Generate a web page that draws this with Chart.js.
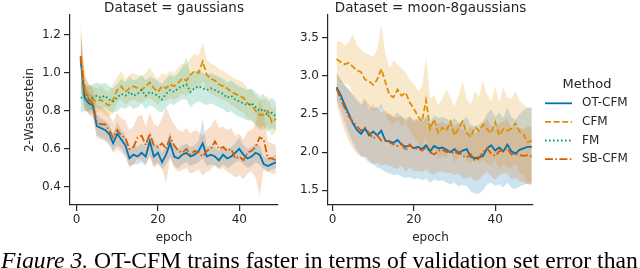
<!DOCTYPE html>
<html><head><meta charset="utf-8">
<script src="https://cdn.jsdelivr.net/npm/chart.js@4.4.1/dist/chart.umd.min.js"></script>
<style>
html,body{margin:0;padding:0;background:#fff;width:640px;height:268px;overflow:hidden;position:relative}
canvas{position:absolute;top:0}
#c1{left:0}
#c2{left:290px}
#cap{position:absolute;left:1px;top:249px;font-family:"Liberation Serif","Times New Roman",serif;font-size:22px;line-height:22px;white-space:nowrap;color:#000}
</style></head><body>
<canvas id="c1" width="290" height="250"></canvas>
<canvas id="c2" width="350" height="250"></canvas>
<div id="cap"><i>Figure 3.</i> OT-CFM trains faster in terms of validation set error than</div>
<script>
// ---------- data ----------
const epochs = [1,2,3,4,5,6,7,8,9,10,11,12,13,14,15,16,17,18,19,20,21,22,23,24,25,26,27,28,29,30,31,32,33,34,35,36,37,38,39,40,41,42,43,44,45,46,47,48,49];
const xTicks = [0,20,40];
const yTicksLeft = [0.4,0.6,0.8,1.0,1.2];
const yTicksRight = [1.5,2.0,2.5,3.0,3.5];
const panelTitles = ["Dataset = gaussians","Dataset = moon-8gaussians"];
const methods = ["OT-CFM","CFM","FM","SB-CFM"];

// Dataset = gaussians
const gOT = [1.07,0.87,0.84,0.83,0.72,0.71,0.70,0.68,0.63,0.68,0.65,0.62,0.55,0.57,0.56,0.58,0.56,0.64,0.56,0.58,0.53,0.57,0.63,0.56,0.55,0.57,0.58,0.56,0.57,0.59,0.63,0.56,0.57,0.56,0.54,0.57,0.55,0.56,0.58,0.60,0.57,0.55,0.56,0.58,0.57,0.52,0.51,0.52,0.53];
const gOTlo = [0.92,0.80,0.79,0.78,0.67,0.66,0.65,0.63,0.59,0.62,0.60,0.57,0.51,0.52,0.52,0.53,0.51,0.57,0.51,0.53,0.49,0.52,0.56,0.51,0.50,0.52,0.53,0.51,0.52,0.53,0.55,0.51,0.52,0.51,0.50,0.52,0.50,0.51,0.53,0.54,0.52,0.50,0.51,0.53,0.52,0.49,0.48,0.49,0.50];
const gOThi = [1.22,0.95,0.90,0.88,0.78,0.76,0.75,0.73,0.68,0.74,0.70,0.67,0.60,0.62,0.61,0.63,0.61,0.70,0.62,0.63,0.58,0.62,0.69,0.61,0.60,0.62,0.63,0.61,0.62,0.64,0.76,0.61,0.62,0.61,0.59,0.62,0.60,0.61,0.63,0.66,0.62,0.60,0.61,0.63,0.62,0.56,0.55,0.56,0.57];
const gCFM = [1.08,0.92,0.87,0.86,0.85,0.86,0.84,0.83,0.86,0.91,0.93,0.90,0.92,0.93,0.92,0.91,0.93,0.95,0.92,0.90,0.93,0.92,0.94,0.93,0.95,0.97,0.96,0.99,1.01,1.00,1.06,0.99,0.97,0.96,0.94,0.93,0.92,0.90,0.89,0.88,0.87,0.84,0.83,0.80,0.78,0.78,0.80,0.74,0.76];
const gCFMlo = [0.90,0.85,0.81,0.80,0.79,0.80,0.78,0.77,0.79,0.84,0.86,0.83,0.85,0.86,0.85,0.84,0.86,0.87,0.85,0.83,0.86,0.85,0.87,0.86,0.87,0.89,0.88,0.90,0.92,0.91,0.96,0.91,0.89,0.88,0.87,0.86,0.85,0.83,0.82,0.80,0.79,0.76,0.75,0.72,0.70,0.70,0.72,0.67,0.69];
const gCFMhi = [1.26,1.00,0.94,0.93,0.92,0.93,0.91,0.90,0.94,0.98,1.01,0.97,0.99,1.00,0.99,0.98,1.00,1.03,0.99,0.97,1.00,0.99,1.01,1.00,1.03,1.05,1.04,1.08,1.10,1.09,1.16,1.07,1.05,1.04,1.02,1.01,1.00,0.98,0.97,0.96,0.95,0.92,0.91,0.88,0.86,0.86,0.88,0.81,0.83];
const gFM = [0.87,0.87,0.86,0.87,0.88,0.87,0.88,0.86,0.85,0.87,0.89,0.88,0.90,0.88,0.89,0.91,0.88,0.90,0.89,0.88,0.86,0.89,0.91,0.90,0.92,0.93,0.94,0.90,0.92,0.93,0.92,0.91,0.92,0.91,0.90,0.89,0.87,0.88,0.86,0.85,0.84,0.83,0.84,0.82,0.80,0.81,0.77,0.79,0.77];
const gFMlo = [0.79,0.80,0.80,0.81,0.82,0.81,0.82,0.80,0.79,0.80,0.82,0.81,0.83,0.81,0.82,0.84,0.81,0.83,0.82,0.80,0.79,0.82,0.84,0.83,0.85,0.86,0.86,0.82,0.84,0.85,0.84,0.83,0.84,0.83,0.82,0.81,0.79,0.80,0.78,0.77,0.76,0.75,0.75,0.73,0.71,0.72,0.69,0.71,0.70];
const gFMhi = [0.95,0.94,0.93,0.94,0.95,0.94,0.95,0.93,0.92,0.94,0.97,0.95,0.98,0.96,0.97,0.99,0.96,0.98,0.97,0.96,0.94,0.97,0.99,0.98,1.00,1.03,1.08,0.99,1.00,1.02,1.00,0.99,1.00,0.99,0.98,0.97,0.95,0.96,0.94,0.93,0.92,0.91,0.92,0.90,0.88,0.89,0.85,0.87,0.85];
const gSB = [1.09,0.90,0.86,0.84,0.74,0.73,0.73,0.70,0.66,0.70,0.67,0.66,0.60,0.61,0.66,0.67,0.62,0.68,0.62,0.61,0.63,0.60,0.66,0.62,0.59,0.58,0.60,0.57,0.59,0.58,0.56,0.59,0.60,0.64,0.60,0.61,0.59,0.60,0.55,0.56,0.54,0.58,0.59,0.61,0.66,0.65,0.55,0.55,0.54];
const gSBlo = [0.95,0.82,0.78,0.76,0.66,0.65,0.64,0.62,0.58,0.60,0.58,0.56,0.50,0.52,0.55,0.54,0.52,0.56,0.50,0.52,0.50,0.42,0.55,0.50,0.48,0.49,0.50,0.47,0.48,0.49,0.46,0.48,0.49,0.52,0.49,0.50,0.48,0.47,0.45,0.46,0.44,0.47,0.48,0.45,0.35,0.50,0.48,0.47,0.47];
const gSBhi = [1.24,0.98,0.94,0.92,0.83,0.82,0.81,0.78,0.74,0.79,0.76,0.75,0.70,0.72,0.77,0.78,0.72,0.79,0.73,0.72,0.76,0.82,0.77,0.73,0.70,0.69,0.71,0.68,0.70,0.69,0.67,0.70,0.72,0.76,0.71,0.72,0.70,0.71,0.67,0.68,0.65,0.69,0.70,0.73,0.86,0.78,0.64,0.63,0.62];

// Dataset = moon-8gaussians
const mOT = [2.85,2.75,2.62,2.50,2.38,2.29,2.24,2.31,2.22,2.27,2.22,2.28,2.15,2.14,2.12,2.16,2.10,2.07,2.09,2.05,2.07,2.04,2.09,2.01,2.08,2.05,2.06,2.03,2.00,2.04,1.98,2.02,2.04,1.94,1.92,1.93,1.95,2.05,2.09,2.02,2.06,2.01,2.10,2.01,1.98,2.03,2.05,2.07,2.07];
const mOTlo = [2.68,2.55,2.40,2.25,2.12,2.02,1.95,1.92,1.86,1.84,1.80,1.78,1.74,1.72,1.70,1.71,1.68,1.66,1.67,1.64,1.66,1.63,1.65,1.60,1.64,1.62,1.63,1.60,1.58,1.60,1.55,1.57,1.56,1.48,1.46,1.45,1.50,1.58,1.60,1.56,1.58,1.54,1.60,1.53,1.52,1.55,1.57,1.59,1.58];
const mOThi = [3.02,2.95,2.88,2.82,2.75,2.68,2.62,2.66,2.56,2.62,2.56,2.63,2.50,2.50,2.46,2.52,2.46,2.44,2.46,2.42,2.44,2.40,2.48,2.40,2.48,2.45,2.46,2.44,2.40,2.45,2.38,2.42,2.46,2.36,2.34,2.36,2.40,2.50,2.56,2.46,2.52,2.45,2.58,2.46,2.42,2.50,2.55,2.58,2.58];
const mCFM = [3.22,3.18,3.15,3.17,3.12,3.07,3.05,2.95,2.93,2.88,2.95,3.09,2.92,2.75,2.72,2.82,2.74,2.78,2.65,2.57,2.47,2.40,2.68,2.30,2.43,2.25,2.32,2.28,2.40,2.22,2.31,2.40,2.25,2.20,2.33,2.28,2.36,2.30,2.25,2.39,2.22,2.30,2.28,2.31,2.38,2.27,2.23,2.13,2.15];
const mCFMlo = [2.98,2.92,2.90,2.88,2.76,2.72,2.68,2.62,2.58,2.54,2.56,2.58,2.50,2.40,2.36,2.42,2.34,2.38,2.28,2.20,2.12,2.05,2.20,1.95,2.05,1.90,1.96,1.92,2.02,1.86,1.94,2.00,1.88,1.84,1.92,1.86,1.90,1.86,1.82,1.90,1.78,1.84,1.80,1.80,1.85,1.72,1.70,1.58,1.62];
const mCFMhi = [3.45,3.45,3.40,3.44,3.55,3.40,3.35,3.30,3.28,3.25,3.35,3.68,3.30,3.10,3.20,3.15,3.10,3.05,2.95,2.90,2.80,2.85,3.25,2.70,2.75,2.62,2.70,2.82,2.72,2.60,2.75,2.92,2.70,2.62,2.80,2.72,2.94,2.76,2.66,2.86,2.65,2.84,2.72,2.70,2.80,2.68,2.62,2.58,2.58];
const mSB = [2.83,2.70,2.58,2.47,2.40,2.34,2.28,2.32,2.25,2.18,2.22,2.15,2.17,2.13,2.10,2.08,2.11,2.02,2.10,2.04,2.05,2.02,2.06,2.00,1.97,2.02,2.03,2.00,2.01,1.98,2.01,1.95,1.93,1.97,1.89,1.92,2.00,2.05,1.98,1.95,2.01,2.03,2.05,1.97,1.98,1.96,1.95,1.96,1.94];
const mSBlo = [2.62,2.45,2.28,2.15,2.05,1.98,1.94,1.95,1.90,1.84,1.86,1.82,1.84,1.82,1.80,1.78,1.82,1.74,1.80,1.75,1.76,1.74,1.78,1.72,1.70,1.74,1.75,1.72,1.73,1.70,1.72,1.66,1.65,1.68,1.62,1.64,1.70,1.74,1.68,1.64,1.70,1.72,1.72,1.64,1.66,1.62,1.60,1.58,1.56];
const mSBhi = [3.05,2.95,2.88,2.82,2.76,2.72,2.66,2.70,2.62,2.56,2.60,2.52,2.55,2.50,2.46,2.45,2.48,2.38,2.48,2.40,2.42,2.38,2.45,2.36,2.32,2.38,2.40,2.36,2.38,2.34,2.38,2.30,2.28,2.34,2.24,2.28,2.38,2.44,2.34,2.30,2.38,2.40,2.44,2.32,2.34,2.32,2.30,2.34,2.32];

// ---------- styles ----------
const FONT = '"DejaVu Sans", sans-serif';
const INK = '#262626';
const COLORS = {"OT-CFM":[1,115,178],"CFM":[222,143,5],"FM":[2,158,115],"SB-CFM":[213,94,0]};
const DASH = {"OT-CFM":[],"CFM":[6,2.6],"FM":[1.6,2.4],"SB-CFM":[8,2.4,1.6,2.4]};
const LW = 1.8;
const rgba = (c,a) => `rgba(${c[0]},${c[1]},${c[2]},${a})`;
const pts = arr => arr.map((v,i) => ({x: epochs[i], y: v}));

function buildDatasets(series){
  const ds = [];
  series.forEach((s,k) => {
    const hiIdx = ds.length;
    ds.push({data: pts(s.hi), borderColor:'rgba(0,0,0,0)', borderWidth:0, pointRadius:0, fill:false, order:60});
    ds.push({data: pts(s.lo), borderColor:'rgba(0,0,0,0)', borderWidth:0, pointRadius:0,
      fill:{target:hiIdx}, backgroundColor: rgba(COLORS[s.name],0.2), order:40-k});
  });
  series.forEach((s,k) => {
    ds.push({label:s.name, data: pts(s.mean), borderColor: rgba(COLORS[s.name],1), borderWidth:LW,
      borderDash: DASH[s.name], pointRadius:0, fill:false, tension:0, order:10-k, borderCapStyle:'butt'});
  });
  return ds;
}

const titlePlugin = {
  id:'facetTitle',
  afterDraw(chart, args, opts){
    const ctx = chart.ctx, a = chart.chartArea;
    ctx.save();
    ctx.font = '13.5px ' + FONT;
    ctx.fillStyle = INK;
    ctx.textAlign = 'center';
    ctx.textBaseline = 'alphabetic';
    ctx.fillText(opts.text, (a.left + a.right)/2, 11.5);
    ctx.restore();
  }
};

const legendPlugin = {
  id:'methodLegend',
  afterDraw(chart, args, opts){
    if (!opts.show) return;
    const ctx = chart.ctx;
    ctx.save();
    ctx.fillStyle = INK;
    ctx.textBaseline = 'middle';
    ctx.textAlign = 'center';
    ctx.font = '13px ' + FONT;
    ctx.fillText('Method', 297, 85);
    ctx.textAlign = 'left';
    ctx.font = '12px ' + FONT;
    methods.forEach((m,i) => {
      const y = 103.3 + i*18.6;
      ctx.strokeStyle = rgba(COLORS[m],1);
      ctx.lineWidth = LW;
      ctx.setLineDash(DASH[m]);
      ctx.beginPath(); ctx.moveTo(255, y); ctx.lineTo(282, y); ctx.stroke();
      ctx.setLineDash([]);
      ctx.fillText(m, 292, y);
    });
    ctx.restore();
  }
};

function makeChart(id, series, o){
  return new Chart(document.getElementById(id), {
    type:'line',
    data:{datasets: buildDatasets(series)},
    plugins:[titlePlugin, legendPlugin],
    options:{
      responsive:false, animation:false, devicePixelRatio:1,
      layout:{padding:{top:15, right:o.padRight, left:0, bottom:0}},
      plugins:{legend:{display:false}, tooltip:{enabled:false},
        facetTitle:{text:o.title}, methodLegend:{show:o.legend}},
      scales:{
        x:{type:'linear', min:o.xMin, max:o.xMax,
          afterBuildTicks: sc => { sc.ticks = xTicks.map(v => ({value:v})); },
          afterFit: sc => { sc.height = 45; },
          ticks:{font:{family:FONT, size:12}, color:INK, padding:2, maxRotation:0, callback: v => String(v)},
          grid:{drawOnChartArea:false, drawTicks:true, tickLength:6, color:INK, lineWidth:1.2},
          border:{display:true, color:INK, width:1.2},
          title:{display:true, text:'epoch', font:{family:FONT, size:12}, color:INK, padding:{top:0, bottom:5}}
        },
        y:{type:'linear', min:o.yMin, max:o.yMax,
          afterBuildTicks: sc => { sc.ticks = o.yTicks.map(v => ({value:v})); },
          afterFit: sc => { sc.width = o.yWidth; },
          ticks:{font:{family:FONT, size:12}, color:INK, padding:3, callback: v => Number(v).toFixed(1)},
          grid:{drawOnChartArea:false, drawTicks:true, tickLength:6, color:INK, lineWidth:1.2},
          border:{display:true, color:INK, width:1.2},
          title:{display:o.yTitle, text:'2-Wasserstein', font:{family:FONT, size:12}, color:INK, padding:{top:22.8, bottom:0}}
        }
      }
    }
  });
}

makeChart('c1', [
  {name:"OT-CFM", mean:gOT, lo:gOTlo, hi:gOThi},
  {name:"CFM", mean:gCFM, lo:gCFMlo, hi:gCFMhi},
  {name:"FM", mean:gFM, lo:gFMlo, hi:gFMhi},
  {name:"SB-CFM", mean:gSB, lo:gSBlo, hi:gSBhi}
], {title:panelTitles[0], legend:false, padRight:12, yWidth:70, xMin:-1.6, xMax:49.5,
    yMin:0.305, yMax:1.305, yTicks:yTicksLeft, yTitle:true});

makeChart('c2', [
  {name:"OT-CFM", mean:mOT, lo:mOTlo, hi:mOThi},
  {name:"CFM", mean:mCFM, lo:mCFMlo, hi:mCFMhi},
  {name:"SB-CFM", mean:mSB, lo:mSBlo, hi:mSBhi}
], {title:panelTitles[1], legend:true, padRight:107, yWidth:38, xMin:-1.1, xMax:49.3,
    yMin:1.307, yMax:3.797, yTicks:yTicksRight, yTitle:false});

// fit caption to the page width
(function(){
  const cap = document.getElementById('cap');
  const w = cap.getBoundingClientRect().width;
  const fs = 22 * 637 / w;
  cap.style.fontSize = fs.toFixed(2) + 'px';
})();
</script>
</body></html>
